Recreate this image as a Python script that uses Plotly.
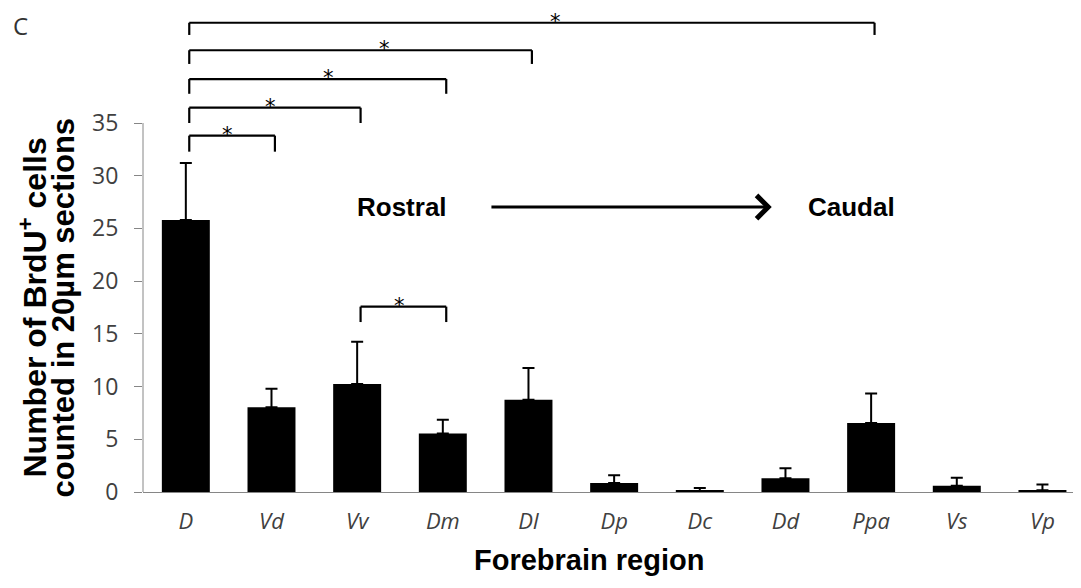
import plotly.graph_objects as go

regions = ["D", "Vd", "Vv", "Dm", "Dl", "Dp", "Dc", "Dd", "Ppa", "Vs", "Vp"]
means = [25.8, 8.05, 10.25, 5.55, 8.75, 0.85, 0.1, 1.3, 6.55, 0.6, 0.17]
errors = [5.4, 1.75, 4.0, 1.3, 3.0, 0.75, 0.27, 0.95, 2.8, 0.75, 0.55]
y_ticks = [0, 5, 10, 15, 20, 25, 30, 35]

# significance comparisons: (from, to)
comparisons = [("D", "Ppa"), ("D", "Dl"), ("D", "Dm"), ("D", "Vv"), ("D", "Vd"), ("Vv", "Dm")]

# page has an 8px body margin; figure is sized so the plot lands where the reference has it
OFF = 8
W, H = 1081 - OFF, 588 - OFF
L, B = 143 - OFF, 96
PW = W - L
PH = H - B


def px_x(p):
    return (p - 143) / PW


def px_y(p):
    return (H - (p - OFF) - B) / PH


fig = go.Figure()
fig.add_trace(go.Bar(
    x=regions, y=means, width=0.56,
    marker=dict(color="black", line=dict(width=0)),
    error_y=dict(type="data", symmetric=False, array=errors,
                 arrayminus=[0] * len(errors), color="black",
                 thickness=2, width=6),
    showlegend=False,
))

shapes = []
annotations = []

# bracket geometry (layout): line y, drop y, star x
bracket_layout = [
    (44.51, 43.35, 4.32),
    (41.90, 40.60, 2.32),
    (39.17, 37.77, 1.66),
    (36.45, 35.00, 0.99),
    (33.80, 32.28, 0.49),
    (17.58, 16.12, 2.50),
]
idx = {r: i for i, r in enumerate(regions)}
for (a, b), (yl, yd, sx) in zip(comparisons, bracket_layout):
    x0 = idx[a] + 0.04
    x1 = idx[b] + 0.04
    line = dict(color="black", width=2.2)
    shapes.append(dict(type="line", xref="x", yref="y", x0=x0, x1=x1, y0=yl, y1=yl, line=line))
    shapes.append(dict(type="line", xref="x", yref="y", x0=x0, x1=x0, y0=yl, y1=yd, line=line))
    shapes.append(dict(type="line", xref="x", yref="y", x0=x1, x1=x1, y0=yl, y1=yd, line=line))
    annotations.append(dict(x=sx, y=yl, xref="x", yref="y", text="*", showarrow=False,
                            font=dict(family="DejaVu Sans", size=21, color="black"),
                            yanchor="middle", xanchor="center", yshift=1))

# y axis line from 0 to 35
shapes.append(dict(type="line", xref="paper", yref="y", x0=0, x1=0, y0=0, y1=35,
                   line=dict(color="#868686", width=1)))

# Rostral -> Caudal arrow
annotations.append(dict(x=6.84, y=27.03, ax=3.55, ay=27.03, xref="x", yref="y",
                        axref="x", ayref="y", text="", showarrow=True,
                        arrowhead=4, arrowsize=1.4, arrowwidth=3.2, arrowcolor="black"))
annotations.append(dict(x=2.52, y=27.03, xref="x", yref="y", text="<b>Rostral</b>",
                        showarrow=False, font=dict(family="Liberation Sans", size=26, color="black")))
annotations.append(dict(x=7.77, y=27.03, xref="x", yref="y", text="<b>Caudal</b>",
                        showarrow=False, font=dict(family="Liberation Sans", size=26, color="black")))

# panel label
annotations.append(dict(x=px_x(20), y=px_y(25), xref="paper", yref="paper", text="C",
                        showarrow=False, xanchor="center", yanchor="middle",
                        font=dict(family="Open Sans", size=24, color="#333")))

# y title (two lines)
annotations.append(dict(x=px_x(32), y=17.5, xref="paper", yref="y",
                        text="<b>Number of BrdU<sup>+</sup> cells</b>", textangle=-90,
                        showarrow=False, xanchor="center", yanchor="middle",
                        font=dict(family="Liberation Sans", size=32, color="black")))
annotations.append(dict(x=px_x(63), y=17.5, xref="paper", yref="y",
                        text="<b>counted in 20µm sections</b>", textangle=-90,
                        showarrow=False, xanchor="center", yanchor="middle",
                        font=dict(family="Liberation Sans", size=31, color="black")))
# x title
annotations.append(dict(x=px_x(589), y=px_y(560), xref="paper", yref="paper",
                        text="<b>Forebrain region</b>", showarrow=False,
                        xanchor="center", yanchor="middle",
                        font=dict(family="Liberation Sans", size=29, color="black")))

fig.update_layout(
    width=W, height=H,
    margin=dict(l=L, r=0, t=0, b=B, pad=0),
    paper_bgcolor="white", plot_bgcolor="white",
    shapes=shapes, annotations=annotations,
    xaxis=dict(range=[-0.5, 10.45], showline=True, linecolor="#868686", linewidth=1,
               ticks="", showgrid=False, zeroline=False,
               tickfont=dict(family="Open Sans", size=22, color="#404040", style="italic"),
               ticklabelstandoff=10),
    yaxis=dict(range=[0, PH / 10.543], tickvals=y_ticks, showline=False, showgrid=False,
               zeroline=False, ticks="outside", ticklen=8, tickcolor="#868686",
               tickfont=dict(family="Open Sans", size=23, color="#404040"),
               ticklabelstandoff=11),
)

fig.write_html("out.html")
